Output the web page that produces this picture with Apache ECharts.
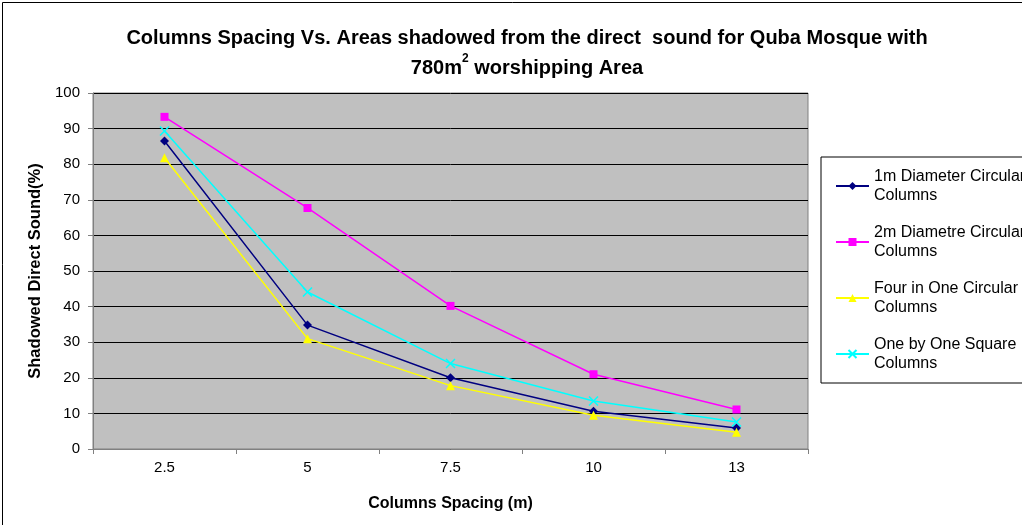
<!DOCTYPE html>
<html>
<head>
<meta charset="utf-8">
<script src="https://cdn.jsdelivr.net/npm/echarts@6/dist/echarts.min.js"></script>
<style>
  html, body { margin: 0; padding: 0; background: #fff; }
  #chart { width: 1022px; height: 525px; }
</style>
</head>
<body>
<div id="chart"></div>
<script>
// Column spacing (m) on the x axis
const spacings = ['2.5', '5', '7.5', '10', '13'];

// Shadowed direct sound (%) for each column type
const oneMetreCircular = [86.5, 34.8, 20.0, 10.6, 5.9];
const twoMetreCircular = [93.3, 67.7, 40.2, 21.0, 11.1];
const fourInOneCircular = [81.8, 31.0, 17.8, 9.5, 4.7];
const oneByOneSquare = [89.3, 44.1, 24.0, 13.5, 7.6];

const seriesNames = [
  '1m Diameter Circular\nColumns',
  '2m Diametre Circular\nColumns',
  'Four in One Circular\nColumns',
  'One by One Square\nColumns'
];

const FONT = '"Liberation Sans", Arial, sans-serif';

function lineSeries(name, data, color, symbol, size, extra) {
  return Object.assign({
    name: name,
    type: 'line',
    data: data,
    symbol: symbol,
    symbolSize: size,
    lineStyle: { color: color, width: 1.5 },
    itemStyle: { color: color },
    emphasis: { disabled: true },
    animation: false
  }, extra || {});
}

const chart = echarts.init(document.getElementById('chart'), null, { renderer: 'canvas' });

chart.setOption({
  backgroundColor: '#ffffff',
  animation: false,
  title: {
    top: 18,
    left: 522,
    textAlign: 'center',
    text: 'Columns Spacing Vs. Areas shadowed from the direct  sound for Quba Mosque with\n780m{sup|2} worshipping Area',
    textStyle: {
      fontFamily: FONT,
      fontSize: 20,
      fontWeight: 'bold',
      color: '#000',
      lineHeight: 30,
      rich: {
        sup: {
          fontFamily: FONT,
          fontSize: 12,
          fontWeight: 'bold',
          color: '#000',
          verticalAlign: 'top',
          padding: [0, 0, 13, 0]
        }
      }
    }
  },
  grid: {
    left: 93,
    top: 93,
    right: 214,
    bottom: 76,
    show: true,
    backgroundColor: '#c0c0c0',
    borderColor: '#808080',
    borderWidth: 1
  },
  legend: {
    orient: 'vertical',
    left: 821,
    top: 157,
    padding: [10, 12, 10, 14],
    itemGap: 18,
    itemWidth: 33,
    itemHeight: 10,
    backgroundColor: '#ffffff',
    borderColor: '#000000',
    borderWidth: 1,
    selectedMode: false,
    textStyle: {
      fontFamily: FONT,
      fontSize: 16,
      color: '#000',
      lineHeight: 19
    },
    data: seriesNames
  },
  xAxis: {
    type: 'category',
    data: spacings,
    boundaryGap: true,
    name: 'Columns Spacing (m)',
    nameLocation: 'middle',
    nameGap: 47,
    nameTextStyle: { fontFamily: FONT, fontSize: 16, fontWeight: 'bold', color: '#000' },
    axisLine: { lineStyle: { color: '#808080', width: 1 } },
    axisTick: { show: true, alignWithLabel: false, length: 5, lineStyle: { color: '#808080' } },
    axisLabel: { fontFamily: FONT, fontSize: 15, color: '#000', margin: 11 },
    splitLine: { show: false }
  },
  yAxis: {
    type: 'value',
    min: 0,
    max: 100,
    interval: 10,
    name: 'Shadowed Direct Sound(%)',
    nameLocation: 'middle',
    nameGap: 49,
    nameRotate: 90,
    nameTextStyle: { fontFamily: FONT, fontSize: 16.5, fontWeight: 'bold', color: '#000' },
    axisLine: { show: true, lineStyle: { color: '#808080', width: 1 } },
    axisTick: { show: true, length: 5, lineStyle: { color: '#808080' } },
    axisLabel: { fontFamily: FONT, fontSize: 15, color: '#000', margin: 13 },
    splitLine: { show: true, lineStyle: { color: '#000000', width: 1 } }
  },
  series: [
    lineSeries(seriesNames[0], oneMetreCircular, '#000080', 'diamond', 9),
    lineSeries(seriesNames[1], twoMetreCircular, '#ff00ff', 'rect', 8),
    lineSeries(seriesNames[2], fourInOneCircular, '#ffff00', 'triangle', 9),
    lineSeries(seriesNames[3], oneByOneSquare, '#00ffff', 'path://M0,0L10,10M10,0L0,10', 9, {
      itemStyle: { color: 'rgba(0,0,0,0)', borderColor: '#00ffff', borderWidth: 1.5 }
    })
  ],
  graphic: [
    {
      type: 'rect',
      left: 0,
      top: 0,
      shape: { width: 1021, height: 524 },
      style: { fill: null, stroke: '#000000', lineWidth: 1 },
      silent: true,
      z: 100
    }
  ]
});
</script>
</body>
</html>
